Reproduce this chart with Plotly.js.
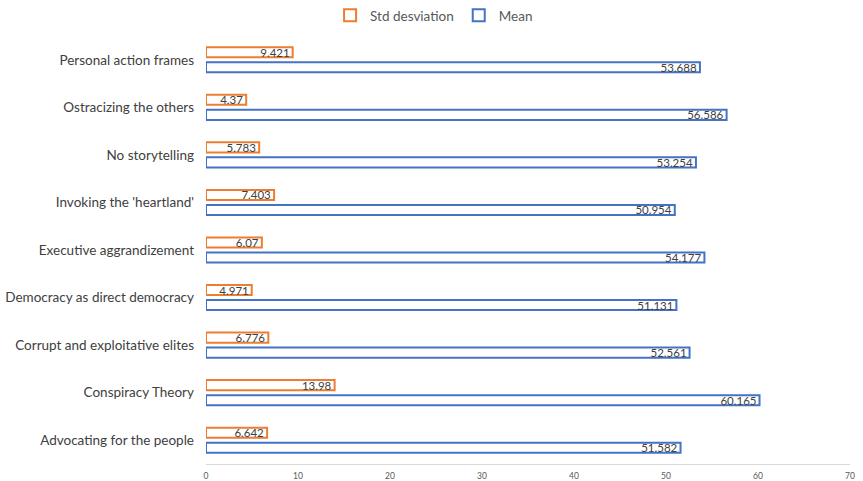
<!DOCTYPE html>
<html>
<head>
<meta charset="utf-8">
<script src="https://cdn.plot.ly/plotly-3.0.1.min.js"></script>
<style>html,body{margin:0;padding:0;background:#fff;}#chart{width:863px;height:481px;}</style>
</head>
<body>
<div id="chart"></div>
<script>
const categories = [
  "Advocating for the people",
  "Conspiracy Theory",
  "Corrupt and exploitative elites",
  "Democracy as direct democracy",
  "Executive aggrandizement",
  "Invoking the 'heartland'",
  "No storytelling",
  "Ostracizing the others",
  "Personal action frames"
];
const stdValues = [6.642, 13.98, 6.776, 4.971, 6.07, 7.403, 5.783, 4.37, 9.421];
const meanValues = [51.582, 60.165, 52.561, 51.131, 54.177, 50.954, 53.254, 56.586, 53.688];
const xTicks = [0, 10, 20, 30, 40, 50, 60, 70];

const textFont = {family: "Lato, 'Open Sans', sans-serif", size: 11.5, color: "#404040"};

const traces = [
  {
    type: "bar", orientation: "h", name: "Mean",
    y: categories, x: meanValues,
    text: meanValues.map(String),
    textposition: "inside", insidetextanchor: "end", constraintext: "none",
    textfont: textFont, cliponaxis: false,
    marker: {color: "#ffffff", line: {color: "#4472C4", width: 2}},
    hoverinfo: "x+y"
  },
  {
    type: "bar", orientation: "h", name: "Std desviation",
    y: categories, x: stdValues,
    text: stdValues.map(String),
    textposition: "inside", insidetextanchor: "end", constraintext: "none",
    textfont: textFont, cliponaxis: false,
    marker: {color: "#ffffff", line: {color: "#ED7D31", width: 2}},
    hoverinfo: "x+y"
  }
];

const layout = {
  width: 863, height: 481,
  margin: {l: 206, r: 13, t: 36, b: 17},
  paper_bgcolor: "#ffffff", plot_bgcolor: "#ffffff",
  barmode: "group", bargap: 0.368, bargroupgap: 0.33,
  font: {family: "Lato, 'Open Sans', sans-serif", color: "#404040"},
  showlegend: true,
  legend: {
    orientation: "h", traceorder: "reversed",
    x: 0.503, xanchor: "center", xref: "container",
    y: 1.0, yanchor: "top", yref: "container",
    font: {size: 13.5, color: "#595959"},
    itemwidth: 30
  },
  xaxis: {
    range: [0, 70], tickvals: xTicks, ticktext: xTicks.map(String),
    showgrid: false, zeroline: false,
    showline: true, linecolor: "#d9d9d9", linewidth: 1,
    ticks: "", tickfont: {size: 8.5, color: "#595959"},
    ticklabelstandoff: 4,
    fixedrange: true
  },
  yaxis: {
    type: "category", categoryorder: "array", categoryarray: categories,
    showgrid: false, zeroline: false, showline: false, ticks: "",
    tickfont: {size: 13.5, color: "#404040"},
    ticklabelstandoff: 11,
    fixedrange: true
  }
};

Plotly.newPlot("chart", traces, layout, {displayModeBar: false, staticPlot: true});
</script>
</body>
</html>
